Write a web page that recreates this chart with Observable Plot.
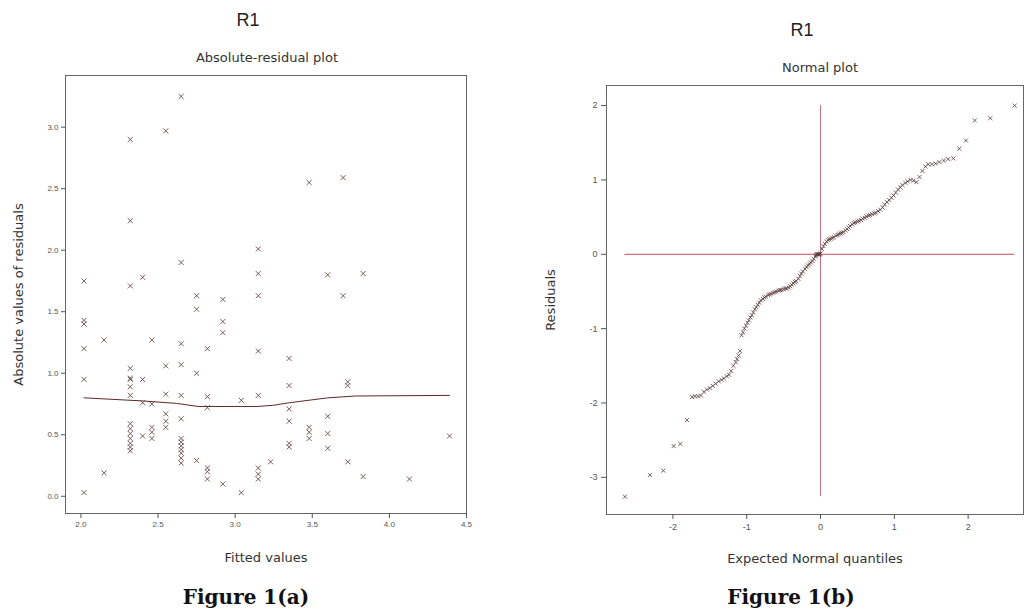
<!DOCTYPE html>
<html><head><meta charset="utf-8">
<script src="https://cdn.jsdelivr.net/npm/d3@7"></script>
<script src="https://cdn.jsdelivr.net/npm/@observablehq/plot@0.6"></script>
<style>
html,body{margin:0;padding:0;background:#fff;}
#page{position:relative;width:1027px;height:615px;overflow:hidden;}
.t{position:absolute;text-align:center;white-space:nowrap;width:300px;}
.title{font:18px "Liberation Sans",Arial,sans-serif;line-height:20px;color:#222;}
.sub{font:13px "DejaVu Sans",sans-serif;line-height:16px;color:#333;}
.cap{font:bold 20px "DejaVu Serif",serif;line-height:24px;color:#111;}
#left,#right{position:absolute;top:60px;}
#left{left:0px;} #right{left:530px;}
g[aria-label="x-axis label"], g[aria-label="y-axis label"]{font-size:13px;font-family:"DejaVu Sans",sans-serif;fill:#333;}
</style>
</head><body>
<div id="page">
  <div class="t title" style="left:98px;top:10px;">R1</div>
  <div class="t sub" style="left:117px;top:50px;">Absolute-residual plot</div>
  <div class="t title" style="left:652px;top:20px;">R1</div>
  <div class="t sub" style="left:670px;top:60px;">Normal plot</div>
  <div id="left"></div>
  <div id="right"></div>
  <div class="t cap" style="left:96px;top:585px;">Figure 1(a)</div>
  <div class="t cap" style="left:641px;top:585px;">Figure 1(b)</div>
</div>
<script>
// ---- Figure 1(a): absolute residuals vs fitted values ----
const fitted = [
  2.02,2.02,2.02,2.02,2.02,2.02,
  2.15,2.15,
  2.32,2.32,2.32,2.32,2.32,2.32,2.32,2.32,2.32,2.32,2.32,2.32,2.32,2.32,2.32,
  2.40,2.40,2.40,2.40,
  2.46,2.46,2.46,2.46,2.46,
  2.55,2.55,2.55,2.55,2.55,2.55,
  2.65,2.65,2.65,2.65,2.65,2.65,2.65,2.65,2.65,2.65,2.65,2.65,2.65,
  2.75,2.75,2.75,2.75,
  2.82,2.82,2.82,2.82,2.82,2.82,
  2.92,2.92,2.92,2.92,
  3.04,3.04,
  3.15,3.15,3.15,3.15,3.15,3.15,3.15,3.15,
  3.23,
  3.35,3.35,3.35,3.35,3.35,3.35,
  3.48,3.48,3.48,3.48,
  3.60,3.60,3.60,3.60,
  3.70,3.70,
  3.73,3.73,3.73,
  3.83,3.83,
  4.13,
  4.39
];
const absResid = [
  1.75,1.43,1.40,1.20,0.95,0.03,
  1.27,0.19,
  2.90,2.24,1.71,1.04,0.96,0.95,0.89,0.82,0.59,0.55,0.51,0.47,0.43,0.40,0.37,
  1.78,0.95,0.76,0.49,
  1.27,0.75,0.56,0.52,0.47,
  2.97,1.06,0.83,0.67,0.61,0.56,
  3.25,1.90,1.24,1.07,0.82,0.63,0.47,0.44,0.41,0.38,0.35,0.31,0.27,
  1.63,1.52,1.00,0.29,
  1.20,0.81,0.72,0.23,0.20,0.14,
  1.60,1.42,1.33,0.10,
  0.78,0.03,
  2.01,1.81,1.63,1.18,0.82,0.23,0.18,0.14,
  0.28,
  1.12,0.90,0.71,0.61,0.43,0.40,
  2.55,0.56,0.52,0.47,
  1.80,0.65,0.51,0.39,
  2.59,1.63,
  0.93,0.90,0.28,
  1.81,0.16,
  0.14,
  0.49
];
const smoothX = [2.02,2.40,2.62,2.76,3.04,3.15,3.25,3.35,3.60,3.78,4.39];
const smoothY = [0.80,0.775,0.755,0.73,0.73,0.73,0.74,0.76,0.80,0.815,0.82];
const xTicksA = [2.0,2.5,3.0,3.5,4.0,4.5];
const yTicksA = [0.0,0.5,1.0,1.5,2.0,2.5,3.0];

// ---- Figure 1(b): normal plot of residuals ----
const normQ = [
  -2.65,-2.31,-2.13,-1.99,-1.90,-1.81,-1.74,-1.70,-1.66,-1.62,-1.58,-1.54,-1.50,-1.46,-1.42,-1.38,
  -1.34,-1.31,-1.27,-1.24,-1.21,-1.18,-1.15,-1.13,-1.11,-1.09,-1.07,-1.05,-1.03,-1.01,-0.99,-0.97,
  -0.95,-0.93,-0.91,-0.89,-0.87,-0.85,-0.83,-0.81,-0.78,-0.76,-0.74,-0.71,-0.69,-0.67,-0.64,-0.62,
  -0.60,-0.57,-0.55,-0.53,-0.50,-0.48,-0.46,-0.43,-0.41,-0.39,-0.37,-0.35,-0.33,-0.30,-0.28,-0.26,
  -0.24,-0.21,-0.19,-0.17,-0.15,-0.13,-0.11,-0.09,-0.07,-0.06,-0.05,-0.04,-0.03,-0.02,-0.01,0.00,
  0.02,0.04,0.06,0.08,0.10,0.12,0.14,0.16,0.18,0.21,0.23,0.25,0.27,0.29,0.31,0.34,
  0.36,0.38,0.40,0.43,0.45,0.47,0.50,0.52,0.55,0.57,0.60,0.62,0.65,0.67,0.70,0.73,
  0.75,0.78,0.81,0.84,0.87,0.90,0.93,0.96,0.99,1.02,1.05,1.08,1.11,1.15,1.18,1.22,
  1.26,1.30,1.34,1.38,1.42,1.46,1.51,1.56,1.61,1.67,1.73,1.80,1.88,1.97,2.09,2.30,2.63
];
const resid = [
  -3.26,-2.97,-2.91,-2.58,-2.55,-2.23,-1.92,-1.91,-1.91,-1.90,-1.85,-1.82,-1.80,-1.77,-1.74,-1.71,
  -1.69,-1.67,-1.64,-1.62,-1.57,-1.50,-1.45,-1.41,-1.36,-1.30,-1.09,-1.05,-1.00,-0.96,-0.92,-0.89,
  -0.85,-0.82,-0.78,-0.74,-0.71,-0.68,-0.65,-0.62,-0.60,-0.58,-0.57,-0.55,-0.54,-0.53,-0.52,-0.51,
  -0.50,-0.49,-0.48,-0.48,-0.47,-0.46,-0.46,-0.45,-0.43,-0.41,-0.39,-0.37,-0.36,-0.33,-0.29,-0.26,
  -0.23,-0.20,-0.17,-0.15,-0.13,-0.11,-0.09,-0.06,-0.03,-0.01,0.00,0.00,0.00,0.00,0.00,0.01,
  0.07,0.11,0.14,0.17,0.19,0.20,0.21,0.22,0.23,0.25,0.26,0.27,0.28,0.29,0.30,0.32,
  0.34,0.36,0.38,0.40,0.42,0.43,0.44,0.45,0.46,0.48,0.49,0.51,0.52,0.53,0.54,0.55,
  0.56,0.58,0.60,0.63,0.67,0.70,0.73,0.76,0.79,0.83,0.87,0.90,0.93,0.96,0.98,1.00,
  0.99,0.97,1.04,1.12,1.18,1.21,1.21,1.22,1.24,1.26,1.28,1.29,1.42,1.53,1.80,1.83,2.00
];
const xTicksB = [-2,-1,0,1,2];
const yTicksB = [-3,-2,-1,0,1,2];

const baseStyle = {fontFamily: '"Liberation Sans", Arial, sans-serif', fontSize: "8px", color: "#555", background: "transparent", overflow: "visible"};
const intFmt = d => (d < 0 ? "-" : "") + Math.abs(d);

const left = Plot.plot({
  width: 490, height: 520,
  marginTop: 15, marginRight: 24, marginBottom: 67, marginLeft: 65,
  style: baseStyle,
  x: {domain: [1.9, 4.5]},
  y: {domain: [-0.14, 3.42]},
  marks: [
    Plot.frame({stroke: "#666"}),
    Plot.axisX({ticks: xTicksA, tickFormat: d3.format(".1f"), tickSize: 5, tickPadding: 3, fontSize: 8,
      label: "Fitted values", labelAnchor: "center", labelOffset: 48, labelArrow: "none"}),
    Plot.axisY({ticks: yTicksA, tickFormat: d3.format(".1f"), tickSize: 4, tickPadding: 3, fontSize: 8,
      label: "Absolute values of residuals", labelAnchor: "center", labelOffset: 52, labelArrow: "none"}),
    Plot.dot(fitted, {x: fitted, y: absResid, symbol: "times", r: 2.4, stroke: "#6b4848", strokeWidth: 0.9}),
    Plot.line(smoothX, {x: smoothX, y: smoothY, stroke: "#5c2a2a", strokeWidth: 1})
  ]
});
document.getElementById("left").append(left);

const [qMin, qMax] = d3.extent(normQ);
const [rMin, rMax] = d3.extent(resid);
const right = Plot.plot({
  width: 497, height: 520,
  marginTop: 25, marginRight: 4, marginBottom: 66, marginLeft: 76,
  style: baseStyle,
  x: {domain: [-2.9, 2.75]},
  y: {domain: [-3.5, 2.27]},
  marks: [
    Plot.frame({stroke: "#666"}),
    Plot.axisX({ticks: xTicksB, tickFormat: intFmt, tickSize: 5, tickPadding: 4, fontSize: 9,
      label: "Expected Normal quantiles", labelAnchor: "center", labelOffset: 48, labelArrow: "none"}),
    Plot.axisY({ticks: yTicksB, tickFormat: intFmt, tickSize: 5, tickPadding: 4, fontSize: 9,
      label: "Residuals", labelAnchor: "center", labelOffset: 61, labelArrow: "none"}),
    Plot.ruleY([0], {x1: qMin, x2: qMax, stroke: "#c0505a", strokeWidth: 1}),
    Plot.ruleX([0], {y1: rMin, y2: rMax, stroke: "#c07080", strokeWidth: 1}),
    Plot.dot(normQ, {x: normQ, y: resid, symbol: "times", r: 2, stroke: "#5a3a3a", strokeWidth: 0.8})
  ]
});
document.getElementById("right").append(right);
</script>
</body></html>
